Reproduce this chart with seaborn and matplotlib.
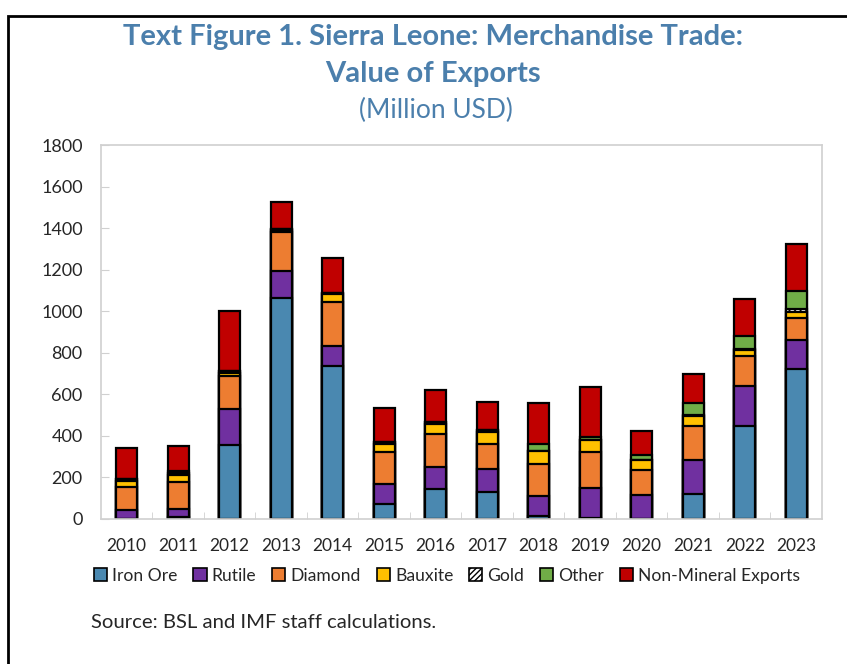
import pandas as pd
import seaborn as sns
import matplotlib.pyplot as plt
from matplotlib.patches import Patch, Rectangle

# Export values by year (million USD)
years = ['2010', '2011', '2012', '2013', '2014', '2015', '2016',
         '2017', '2018', '2019', '2020', '2021', '2022', '2023']
iron_ore = [0, 8, 354, 1062, 737, 72, 140, 129, 11, 3, 0, 119, 447, 721]
rutile = [40, 38, 172, 132, 96, 94, 109, 111, 97, 143, 114, 161, 193, 138]
diamond = [113, 130, 161, 185, 210, 156, 156, 119, 154, 173, 121, 164, 142, 105]
bauxite = [29, 35, 16, 10, 38, 37, 50, 56, 63, 58, 47, 48, 29, 32]
gold = [10, 10, 10, 8, 8, 8, 12, 14, 0, 0, 2, 8, 5, 12]
other = [0, 8, 0, 0, 0, 0, 0, 0, 34, 14, 22, 56, 62, 89]
non_mineral = [146, 122, 289, 128, 166, 165, 152, 132, 196, 244, 114, 140, 182, 227]

series = ['Iron Ore', 'Rutile', 'Diamond', 'Bauxite', 'Gold', 'Other', 'Non-Mineral Exports']
colors = ['#4A88B0', '#7030A0', '#ED7D31', '#FFC000', 'white', '#70AD47', '#C00000']

df = pd.DataFrame({'Year': years, 'Iron Ore': iron_ore, 'Rutile': rutile,
                   'Diamond': diamond, 'Bauxite': bauxite, 'Gold': gold,
                   'Other': other, 'Non-Mineral Exports': non_mineral})

# cumulative totals so each layer can be drawn from zero, top layer first
cum = df[series].cumsum(axis=1)
cum['Year'] = df['Year']

sns.set_style('white')
plt.rcParams['font.family'] = ['Lato', 'DejaVu Sans']

fig = plt.figure(figsize=(8.47, 6.64), dpi=100)
ax = fig.add_axes([0.119, 0.2191, 0.8515, 0.5625])

for name, col in reversed(list(zip(series, colors))):
    sns.barplot(data=cum, x='Year', y=name, order=years, color=col,
                saturation=1, width=0.41, edgecolor='black', linewidth=1.6,
                errorbar=None, ax=ax,
                hatch='//////' if name == 'Gold' else None)

ax.set_xlim(-0.5, 13.5)
ax.set_ylim(0, 1800)
ax.set_yticks(range(0, 1801, 200))
ax.set_xlabel('')
ax.set_ylabel('')
for s in ax.spines.values():
    s.set_color('#D0D0D0')
    s.set_linewidth(1.2)
ax.tick_params(axis='y', direction='in', length=6, color='#D0D0D0',
               labelsize=13, pad=13, left=True)
ax.tick_params(axis='x', length=0, labelsize=12.5, pad=14)
ax.set_xticks([i + 0.5 for i in range(13)], minor=True)
ax.tick_params(axis='x', which='minor', direction='in', length=5,
               color='#D0D0D0', bottom=True)

handles = [Patch(facecolor=c, edgecolor='black', linewidth=1.2,
                 hatch='//////' if n == 'Gold' else None)
           for n, c in zip(series, colors)]
fig.legend(handles, series, loc='center', bbox_to_anchor=(0.528, 0.133),
           ncol=7, frameon=False, fontsize=12.6, handlelength=0.75,
           handleheight=0.75, handletextpad=0.3, columnspacing=0.9)

title_color = '#4B7FAC'
fig.text(0.511, 0.944, 'Text Figure 1. Sierra Leone: Merchandise Trade:',
         ha='center', va='center', fontsize=21, fontweight='bold',
         color=title_color)
fig.text(0.511, 0.889, 'Value of Exports', ha='center', va='center',
         fontsize=21, fontweight='bold', color=title_color)
fig.text(0.515, 0.834, '(Million USD)', ha='center', va='center',
         fontsize=19, color=title_color)
fig.text(0.107, 0.063, 'Source: BSL and IMF staff calculations.',
         ha='left', va='center', fontsize=14.6)

# frame around the whole figure
fig.patches.append(Rectangle((8 / 847, -0.05), 1.05, 1 - 16 / 664 + 0.05,
                             transform=fig.transFigure, fill=False,
                             edgecolor='black', linewidth=2))

fig.savefig('out.png', dpi=100)
